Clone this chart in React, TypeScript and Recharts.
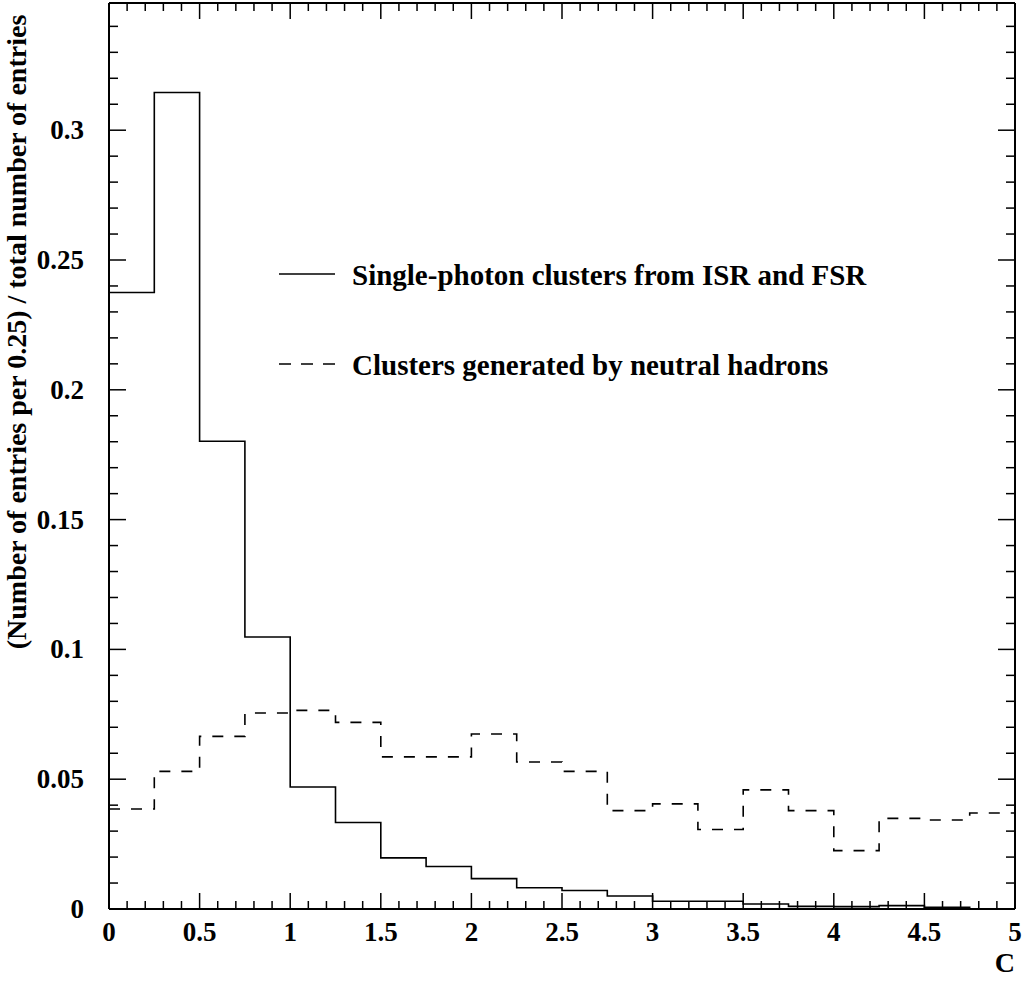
import React from 'react';
import { LineChart, Line, XAxis, YAxis, Legend } from 'recharts';

// Bin edges of the histogram (width 0.25)
const binEdges = [0, 0.25, 0.5, 0.75, 1, 1.25, 1.5, 1.75, 2, 2.25, 2.5, 2.75, 3, 3.25, 3.5, 3.75, 4, 4.25, 4.5, 4.75, 5];

// Series values per bin
const isrFsr = [0.2375, 0.3145, 0.1802, 0.1048, 0.047, 0.0333, 0.0197, 0.0164, 0.0117, 0.0082, 0.0071, 0.005, 0.003, 0.003, 0.0019, 0.001, 0.0009, 0.0013, 0.0007, 0.0];
const neutralHadrons = [0.0385, 0.053, 0.0665, 0.0755, 0.0765, 0.0719, 0.0586, 0.0586, 0.0674, 0.0566, 0.053, 0.0379, 0.0405, 0.0306, 0.0459, 0.0379, 0.0225, 0.0349, 0.0343, 0.037];

const seriesNames = ['Single-photon clusters from ISR and FSR', 'Clusters generated by neutral hadrons'];

// Axis ticks and labels
const xMajorTicks = [0, 0.5, 1, 1.5, 2, 2.5, 3, 3.5, 4, 4.5, 5];
const xTickLabels = ['0', '0.5', '1', '1.5', '2', '2.5', '3', '3.5', '4', '4.5', '5'];
const yMajorTicks = [0, 0.05, 0.1, 0.15, 0.2, 0.25, 0.3];
const yTickLabels = ['0', '0.05', '0.1', '0.15', '0.2', '0.25', '0.3'];
const xMinorStep = 0.1;
const yMinorStep = 0.01;
const xDomain = [0, 5];
const yDomain = [0, 0.349];
const xTitle = 'C';
const yTitle = '(Number of entries per 0.25) / total number of entries';

const xAllTicks = Array.from({ length: 51 }, (_, i) => +(i * xMinorStep).toFixed(2));
const yAllTicks = Array.from({ length: 35 }, (_, i) => +(i * yMinorStep).toFixed(2));

const chartData = binEdges.map((x, i) => ({
  x,
  isr: isrFsr[Math.min(i, isrFsr.length - 1)],
  hadron: neutralHadrons[Math.min(i, neutralHadrons.length - 1)],
}));

const FONT = '"Liberation Serif", "Times New Roman", Times, serif';

const majorIndex = (v: number, majors: number[]) => majors.findIndex((m) => Math.abs(m - v) < 1e-6);

const BottomTick = (props: any) => {
  const { x, y, payload } = props;
  const idx = majorIndex(payload.value, xMajorTicks);
  const len = idx >= 0 ? 16 : 8;
  return (
    <g>
      <line x1={x} y1={y} x2={x} y2={y - len} stroke="#000" strokeWidth={1.5} />
      {idx >= 0 && (
        <text x={x} y={y + 32} textAnchor="middle" fontFamily={FONT} fontWeight="bold" fontSize={27} fill="#000">
          {xTickLabels[idx]}
        </text>
      )}
    </g>
  );
};

const TopTick = (props: any) => {
  const { x, y, payload } = props;
  const idx = majorIndex(payload.value, xMajorTicks);
  const len = idx >= 0 ? 16 : 8;
  return <line x1={x} y1={y} x2={x} y2={y + len} stroke="#000" strokeWidth={1.5} />;
};

const LeftTick = (props: any) => {
  const { x, y, payload } = props;
  const idx = majorIndex(payload.value, yMajorTicks);
  const len = idx >= 0 ? 17 : 9;
  return (
    <g>
      <line x1={x} y1={y} x2={x + len} y2={y} stroke="#000" strokeWidth={1.5} />
      {idx >= 0 && (
        <text x={x - 25} y={y + 9} textAnchor="end" fontFamily={FONT} fontWeight="bold" fontSize={27} fill="#000">
          {yTickLabels[idx]}
        </text>
      )}
    </g>
  );
};

const RightTick = (props: any) => {
  const { x, y, payload } = props;
  const idx = majorIndex(payload.value, yMajorTicks);
  const len = idx >= 0 ? 17 : 9;
  return <line x1={x} y1={y} x2={x - len} y2={y} stroke="#000" strokeWidth={1.5} />;
};

const LegendContent = () => (
  <svg width={620} height={130} style={{ display: 'block', overflow: 'visible' }}>
    <line x1={0} y1={19} x2={56} y2={19} stroke="#000" strokeWidth={1.5} />
    <text x={73} y={29.5} fontFamily={FONT} fontWeight="bold" fontSize={29} fill="#000">
      {seriesNames[0]}
    </text>
    <line x1={0} y1={109} x2={56} y2={109} stroke="#000" strokeWidth={1.5} strokeDasharray="12 10" />
    <text x={73} y={119.5} fontFamily={FONT} fontWeight="bold" fontSize={29} fill="#000">
      {seriesNames[1]}
    </text>
  </svg>
);

const YTitle = () => (
  <text
    x={26}
    y={332}
    transform="rotate(-90, 26, 332)"
    textAnchor="middle"
    fontFamily={FONT}
    fontWeight="bold"
    fontSize={28}
    fill="#000"
  >
    {yTitle}
  </text>
);

const XTitle = () => (
  <text x={1015} y={972} textAnchor="end" fontFamily={FONT} fontWeight="bold" fontSize={28} fill="#000">
    {xTitle}
  </text>
);

export default function App() {
  return (
    <div style={{ position: 'absolute', left: 0, top: 0, width: 1026, height: 981, background: '#fff' }}>
      <LineChart width={1026} height={981} data={chartData} margin={{ top: 0, right: 0, bottom: 0, left: 0 }}>
        <XAxis
          xAxisId="bottom"
          dataKey="x"
          type="number"
          domain={xDomain}
          ticks={xAllTicks}
          interval={0}
          height={72}
          tickSize={0}
          tickMargin={0}
          tickLine={false}
          axisLine={{ stroke: '#000', strokeWidth: 2 }}
          tick={<BottomTick />}
          allowDataOverflow
          label={<XTitle />}
        />
        <XAxis
          xAxisId="top"
          orientation="top"
          dataKey="x"
          type="number"
          domain={xDomain}
          ticks={xAllTicks}
          interval={0}
          height={3}
          tickSize={0}
          tickMargin={0}
          tickLine={false}
          axisLine={{ stroke: '#000', strokeWidth: 2 }}
          tick={<TopTick />}
          allowDataOverflow
        />
        <YAxis
          yAxisId="left"
          type="number"
          domain={yDomain}
          ticks={yAllTicks}
          interval={0}
          width={109}
          tickSize={0}
          tickMargin={0}
          tickLine={false}
          axisLine={{ stroke: '#000', strokeWidth: 2 }}
          tick={<LeftTick />}
          allowDataOverflow
          label={<YTitle />}
        />
        <YAxis
          yAxisId="right"
          orientation="right"
          type="number"
          domain={yDomain}
          ticks={yAllTicks}
          interval={0}
          width={11}
          tickSize={0}
          tickMargin={0}
          tickLine={false}
          axisLine={{ stroke: '#000', strokeWidth: 2 }}
          tick={<RightTick />}
          allowDataOverflow
        />
        <Line
          xAxisId="bottom"
          yAxisId="left"
          type="stepAfter"
          dataKey="hadron"
          stroke="#000"
          strokeWidth={1.6}
          strokeDasharray="11 11"
          dot={false}
          isAnimationActive={false}
        />
        <Line
          xAxisId="bottom"
          yAxisId="left"
          type="stepAfter"
          dataKey="isr"
          stroke="#000"
          strokeWidth={1.6}
          dot={false}
          isAnimationActive={false}
        />
        <Legend
          layout="vertical"
          align="center"
          verticalAlign="middle"
          content={<LegendContent />}
          wrapperStyle={{ position: 'absolute', left: 279, top: 255, width: 620, height: 130 }}
        />
      </LineChart>
    </div>
  );
}
